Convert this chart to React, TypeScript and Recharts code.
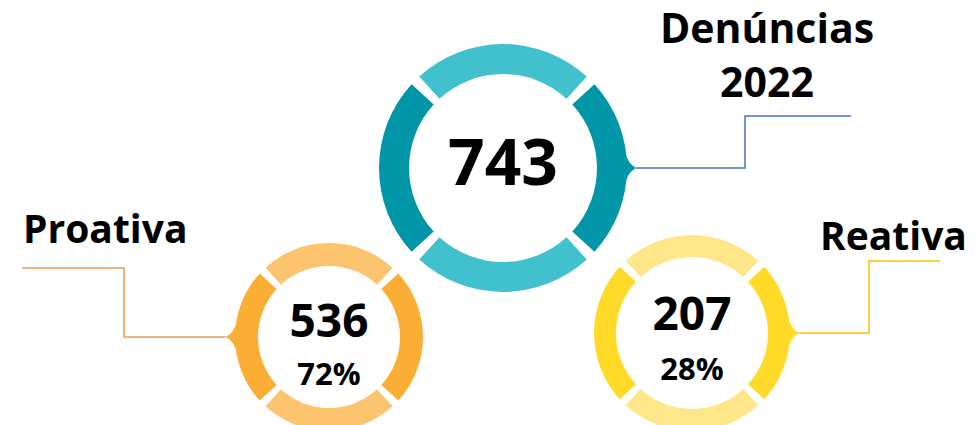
import React from "react"
import { PieChart, Pie, Cell, Customized } from "recharts"

// each ring is drawn as four equal quarters (top, left, bottom, right)
const quarterNames = ["topo", "esquerda", "base", "direita"]
const quarterShares = [1, 1, 1, 1]

const groupNames = ["Denúncias 2022", "Proativa", "Reativa"]
const groupTotals = [743, 536, 207]
const groupPercents = ["", "72%", "28%"]

const lightColors = ["#41C1CD", "#FCC46E", "#FFE68A"]
const darkColors = ["#0096A8", "#FAAE33", "#FFDA28"]
const lineColors = ["#4472C4", "#F0965A", "#FFC000"]

const quarters = quarterNames.map((name, i) => ({ name, value: quarterShares[i] }))

const rings = [
  { cx: 503, cy: 168, inner: 94, outer: 124, side: 1 },
  { cx: 329, cy: 337, inner: 71, outer: 94, side: -1 },
  { cx: 692, cy: 333, inner: 76, outer: 98, side: 1 },
]

const font = "'Open Sans', Lato, sans-serif"
const pad = 5

const Pointer = ({ cx, cy, r, side, color }: any) => {
  const x0 = cx + side * (r - 3)
  const tip = cx + side * (r + 9)
  const d = `M ${x0} ${cy - 18} Q ${cx + side * (r + 1)} ${cy - 4} ${tip} ${cy} Q ${cx + side * (r + 1)} ${cy + 4} ${x0} ${cy + 18} Z`
  return <path d={d} fill={color} />
}

const Annotations = () => {
  const [big, pro, rea] = rings
  return (
    <g fontFamily={font} fontWeight={700} fill="#000">
      {rings.map((g, i) => (
        <Pointer key={i} cx={g.cx} cy={g.cy} r={g.outer} side={g.side} color={darkColors[i]} />
      ))}
      {/* leader lines */}
      <polyline
        points={`${big.cx + big.outer + 9},${big.cy} 745,${big.cy} 745,116 851,116`}
        fill="none" stroke={lineColors[0]} strokeWidth={1.5}
      />
      <polyline
        points={`${pro.cx - pro.outer - 9},${pro.cy} 124,${pro.cy} 124,268 22,268`}
        fill="none" stroke={lineColors[1]} strokeWidth={1.5}
      />
      <polyline
        points={`${rea.cx + rea.outer + 9},${rea.cy} 869,${rea.cy} 869,261 940,261`}
        fill="none" stroke={lineColors[2]} strokeWidth={1.5}
      />
      {/* titles */}
      <text x={767} y={43} fontSize={41} textAnchor="middle">
        {groupNames[0].split(" ")[0]}
      </text>
      <text x={767} y={97} fontSize={41} textAnchor="middle">
        {groupNames[0].split(" ")[1]}
      </text>
      <text x={23} y={243} fontSize={39}>{groupNames[1]}</text>
      <text x={820} y={250} fontSize={39}>{groupNames[2]}</text>
      {/* centre values */}
      <text x={big.cx} y={185} fontSize={64} textAnchor="middle">{groupTotals[0]}</text>
      <text x={pro.cx} y={337} fontSize={46} textAnchor="middle">{groupTotals[1]}</text>
      <text x={pro.cx} y={385} fontSize={31} textAnchor="middle">{groupPercents[1]}</text>
      <text x={rea.cx} y={330} fontSize={46} textAnchor="middle">{groupTotals[2]}</text>
      <text x={rea.cx} y={380} fontSize={31} textAnchor="middle">{groupPercents[2]}</text>
    </g>
  )
}

export default function App() {
  return (
    <div style={{ position: "absolute", left: 0, top: 0 }}>
      <PieChart width={978} height={425} margin={{ top: 0, right: 0, bottom: 0, left: 0 }}>
        {rings.map((g, i) => (
          <Pie
            key={groupNames[i]}
            data={quarters}
            dataKey="value"
            nameKey="name"
            cx={g.cx}
            cy={g.cy}
            innerRadius={g.inner}
            outerRadius={g.outer}
            startAngle={45 + pad / 2}
            endAngle={405 + pad / 2}
            paddingAngle={pad}
            stroke="none"
            isAnimationActive={false}
          >
            {quarters.map((q, k) => (
              <Cell key={q.name} fill={k % 2 === 0 ? lightColors[i] : darkColors[i]} />
            ))}
          </Pie>
        ))}
        <Customized component={<Annotations />} />
      </PieChart>
    </div>
  )
}
